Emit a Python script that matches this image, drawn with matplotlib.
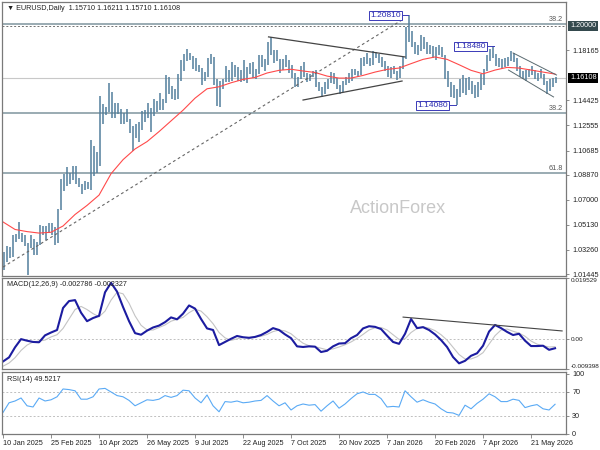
import matplotlib.pyplot as plt
import matplotlib.transforms as mtransforms
import numpy as np

plt.rcParams['font.family'] = ['Liberation Sans', 'DejaVu Sans']

# ---- price bars (each bar = 2 trading days), low / high ----
bar_low = [
    1.0178, 1.0235, 1.0265, 1.0270, 1.0385, 1.0410, 1.0385, 1.0355, 1.0141, 1.0340,
    1.0285, 1.0285, 1.0360, 1.0435, 1.0400, 1.0455, 1.0440, 1.0360, 1.0380, 1.0620,
    1.0765, 1.0800, 1.0815, 1.0845, 1.0820, 1.0795, 1.0745, 1.0770, 1.0780, 1.0775,
    1.0880, 1.0900, 1.0950, 1.1265, 1.1335, 1.1360, 1.1310, 1.1315, 1.1340, 1.1265,
    1.1270, 1.1285, 1.1200, 1.1065, 1.1165, 1.1130, 1.1225, 1.1280, 1.1315, 1.1210,
    1.1330, 1.1355, 1.1375, 1.1375, 1.1425, 1.1490, 1.1455, 1.1445, 1.1450, 1.1590,
    1.1660, 1.1735, 1.1745, 1.1680, 1.1660, 1.1655, 1.1555, 1.1585, 1.1620, 1.1715,
    1.1555, 1.1400, 1.1391, 1.1530, 1.1580, 1.1580, 1.1590, 1.1620, 1.1590, 1.1580,
    1.1585, 1.1575, 1.1640, 1.1610, 1.1605, 1.1640, 1.1690, 1.1660, 1.1710, 1.1780,
    1.1725, 1.1735, 1.1646, 1.1670, 1.1695, 1.1650, 1.1610, 1.1540, 1.1540, 1.1600,
    1.1620, 1.1580, 1.1590, 1.1620, 1.1540, 1.1510, 1.1468, 1.1490, 1.1530, 1.1570,
    1.1565, 1.1530, 1.1491, 1.1505, 1.1560, 1.1570, 1.1590, 1.1630, 1.1615, 1.1630,
    1.1700, 1.1715, 1.1700, 1.1710, 1.1760, 1.1720, 1.1690, 1.1665, 1.1620, 1.1610,
    1.1640, 1.1596, 1.1610, 1.1680, 1.1750, 1.1880, 1.1840, 1.1790, 1.1785, 1.1810,
    1.1830, 1.1790, 1.1790, 1.1760, 1.1745, 1.1780, 1.1770, 1.1600, 1.1540, 1.1470,
    1.1460, 1.1408, 1.1470, 1.1500, 1.1480, 1.1520, 1.1490, 1.1460, 1.1470, 1.1520,
    1.1560, 1.1660, 1.1740, 1.1760, 1.1700, 1.1690, 1.1680, 1.1690, 1.1700, 1.1740,
    1.1730, 1.1660, 1.1620, 1.1600, 1.1590, 1.1620, 1.1630, 1.1600, 1.1590, 1.1610,
    1.1560, 1.1490, 1.1510, 1.1540, 1.1571,
]
bar_high = [
    1.0310, 1.0355, 1.0350, 1.0435, 1.0445, 1.0533, 1.0455, 1.0440, 1.0380, 1.0440,
    1.0410, 1.0385, 1.0515, 1.0505, 1.0505, 1.0530, 1.0530, 1.0500, 1.0630, 1.0855,
    1.0890, 1.0945, 1.0900, 1.0955, 1.0950, 1.0860, 1.0820, 1.0840, 1.0830, 1.1145,
    1.1100, 1.1060, 1.1475, 1.1415, 1.1395, 1.1573, 1.1505, 1.1420, 1.1425, 1.1380,
    1.1350, 1.1380, 1.1305, 1.1250, 1.1265, 1.1285, 1.1365, 1.1375, 1.1420, 1.1385,
    1.1455, 1.1435, 1.1495, 1.1450, 1.1630, 1.1615, 1.1550, 1.1525, 1.1640, 1.1745,
    1.1790, 1.1830, 1.1800, 1.1775, 1.1760, 1.1705, 1.1685, 1.1655, 1.1760, 1.1790,
    1.1770, 1.1600, 1.1590, 1.1600, 1.1700, 1.1670, 1.1730, 1.1710, 1.1690, 1.1670,
    1.1742, 1.1690, 1.1720, 1.1730, 1.1680, 1.1780, 1.1780, 1.1755, 1.1880, 1.1918,
    1.1820, 1.1820, 1.1750, 1.1755, 1.1780, 1.1745, 1.1710, 1.1650, 1.1620, 1.1700,
    1.1728, 1.1650, 1.1640, 1.1665, 1.1670, 1.1580, 1.1540, 1.1580, 1.1600, 1.1655,
    1.1650, 1.1610, 1.1560, 1.1590, 1.1620, 1.1650, 1.1680, 1.1680, 1.1665, 1.1760,
    1.1770, 1.1800, 1.1760, 1.1810, 1.1808, 1.1790, 1.1770, 1.1740, 1.1700, 1.1690,
    1.1700, 1.1660, 1.1700, 1.1770, 1.1990, 1.2081, 1.1960, 1.1880, 1.1860, 1.1930,
    1.1920, 1.1880, 1.1860, 1.1850, 1.1840, 1.1860, 1.1845, 1.1780, 1.1660, 1.1580,
    1.1560, 1.1530, 1.1600, 1.1630, 1.1610, 1.1620, 1.1590, 1.1560, 1.1580, 1.1640,
    1.1680, 1.1780, 1.1830, 1.1848, 1.1790, 1.1760, 1.1750, 1.1760, 1.1770, 1.1810,
    1.1800, 1.1760, 1.1700, 1.1660, 1.1670, 1.1680, 1.1700, 1.1670, 1.1650, 1.1680,
    1.1640, 1.1590, 1.1600, 1.1610, 1.1621,
]

# moving average, one value every 8 trading days
ma_vals = [
    1.0534, 1.0478, 1.0462, 1.0451, 1.0457, 1.0504, 1.0590, 1.0658, 1.0735, 1.0895,
    1.1000, 1.1080, 1.1135, 1.1210, 1.1290, 1.1370, 1.1460, 1.1530, 1.1545, 1.1575,
    1.1600, 1.1615, 1.1648, 1.1668, 1.1676, 1.1663, 1.1652, 1.1625, 1.1610, 1.1610,
    1.1630, 1.1655, 1.1675, 1.1685, 1.1718, 1.1750, 1.1768, 1.1750, 1.1710, 1.1668,
    1.1642, 1.1670, 1.1690, 1.1685, 1.1670, 1.1655, 1.1640,
]

# MACD / signal / RSI, one value every 4 trading days
macd_vals = [
    -0.0070, -0.0057, -0.0025, 0.0001, -0.0004, -0.0008, -0.0009, 0.0013, 0.0022, 0.0030,
    0.0100, 0.0122, 0.0125, 0.0085, 0.0058, 0.0068, 0.0075, 0.0150, 0.0180, 0.0152,
    0.0103, 0.0058, 0.0020, 0.0015, 0.0028, 0.0038, 0.0044, 0.0055, 0.0070, 0.0064,
    0.0082, 0.0108, 0.0098, 0.0065, 0.0035, 0.0030, -0.0018, -0.0008, 0.0002, 0.0011,
    0.0007, 0.0005, 0.0008, 0.0014, 0.0024, 0.0036, 0.0030, 0.0016, 0.0004, -0.0022,
    -0.0024, -0.0022, -0.0023, -0.0040, -0.0036, -0.0022, -0.0013, -0.0012, 0.0004, 0.0014,
    0.0035, 0.0042, 0.0040, 0.0033, 0.0012, -0.0008, -0.0014, 0.0018, 0.0065, 0.0036,
    0.0039, 0.0030, 0.0016, -0.0002, -0.0024, -0.0056, -0.0076, -0.0068, -0.0052, -0.0044,
    -0.0020, 0.0025, 0.0046, 0.0036, 0.0024, 0.0014, 0.0018, -0.0004, -0.0021, -0.0021,
    -0.0020, -0.0033, -0.0028,
]
signal_vals = [
    -0.0085, -0.0075, -0.0058, -0.0035, -0.0018, -0.0008, -0.0005, -0.0002, 0.0008, 0.0015,
    0.0035, 0.0065, 0.0095, 0.0105, 0.0095, 0.0082, 0.0072, 0.0090, 0.0125, 0.0150,
    0.0145, 0.0115, 0.0075, 0.0045, 0.0030, 0.0030, 0.0038, 0.0046, 0.0058, 0.0064,
    0.0070, 0.0085, 0.0096, 0.0090, 0.0072, 0.0050, 0.0022, 0.0005, -0.0003, 0.0002,
    0.0006, 0.0007, 0.0008, 0.0010, 0.0016, 0.0025, 0.0030, 0.0027, 0.0018, 0.0002,
    -0.0012, -0.0020, -0.0023, -0.0028, -0.0033, -0.0030, -0.0024, -0.0017, -0.0008, 0.0003,
    0.0016, 0.0030, 0.0037, 0.0038, 0.0030, 0.0015, 0.0000, 0.0002, 0.0022, 0.0035,
    0.0040, 0.0036, 0.0028, 0.0015, -0.0002, -0.0025, -0.0048, -0.0062, -0.0062, -0.0055,
    -0.0042, -0.0015, 0.0012, 0.0030, 0.0033, 0.0026, 0.0020, 0.0010, -0.0005, -0.0015,
    -0.0020, -0.0024, -0.0023,
]
rsi_vals = [
    36, 52, 55, 60, 47, 45, 60, 55, 57, 62,
    75, 74, 72, 58, 58, 62, 75, 76, 70, 64,
    62, 56, 47, 52, 57, 56, 58, 64, 61, 64,
    73, 72, 60, 52, 65, 47, 37, 54, 53, 55,
    52, 53, 55, 56, 64, 55, 47, 52, 40, 47,
    50, 48, 49, 38, 47, 55, 43, 50, 59, 67,
    70, 66, 66, 59, 45, 46, 45, 72, 62, 53,
    57, 53, 50, 42, 36, 35, 31, 48, 42, 51,
    58, 67, 62, 54, 54, 58, 56, 44, 47, 49,
    42, 40, 49.52,
]

date_labels = ['10 Jan 2025', '25 Feb 2025', '10 Apr 2025', '26 May 2025', '9 Jul 2025',
               '22 Aug 2025', '7 Oct 2025', '20 Nov 2025', '7 Jan 2026', '20 Feb 2026',
               '7 Apr 2026', '21 May 2026']
price_ticks = [1.18165, 1.14425, 1.12555, 1.10685, 1.08870, 1.07000, 1.05130, 1.03260, 1.01445]
fib_levels = [1.2015, 1.1351, 1.0902]
fib_names = ['38.2', '38.2', '61.8']
last_price = 1.16108
round_level = 1.20000
marks = [(1.2081, '1.20810'), (1.1848, '1.18480'), (1.1408, '1.14080')]

bar_days = np.arange(len(bar_low)) * 2 + 0.5
ma_days = np.arange(len(ma_vals)) * 8
ind_days = np.arange(len(macd_vals)) * 4
tick_days = np.arange(len(date_labels)) * 32

XL = (-0.7, 375.3)
FRAME = '#7a7a7a'
TXT = '#222222'
FS = 5.2

fig = plt.figure(figsize=(6, 4.5), dpi=100)
ax = fig.add_axes([2/600, 1-276/450, 564/600, 274/450])
ax2 = fig.add_axes([2/600, 1-369/450, 564/600, 91/450])
ax3 = fig.add_axes([2/600, 1-434/450, 564/600, 62/450])

for a in (ax, ax2, ax3):
    a.set_xlim(*XL)
    for s in a.spines.values():
        s.set_color(FRAME)
        s.set_linewidth(0.9)
    a.yaxis.tick_right()
    a.tick_params(axis='y', direction='out', length=2.5, width=0.6, colors=FRAME,
                  labelcolor=TXT, labelsize=FS, pad=2)
    a.set_xticks([])

# ===== main price panel =====
ax.set_ylim(1.0130, 1.2179)
ax.axhline(last_price, color='#c8c8c8', lw=0.8)
for lvl, name in zip(fib_levels, fib_names):
    ax.axhline(lvl, color='#7f959e', lw=1.1)
    ax.text(373.5, lvl + 0.0008, name, ha='right', va='bottom', fontsize=FS, color='#555555')
ax.axhline(round_level, color='#707070', lw=0.7, ls=(0, (2, 2)))

ax.vlines(bar_days, bar_low, bar_high, color='#527f9c', lw=1.1)
ax.plot(ma_days, ma_vals, color='#ff4a4a', lw=0.8)

# trend lines
ax.plot([0, 267], [1.0197, 1.2052], color='#666666', lw=0.8, ls=(0, (2.5, 2.5)))
ax.plot([177, 268], [1.1918, 1.1768], color='#444444', lw=0.9)
ax.plot([200, 266], [1.1446, 1.1588], color='#444444', lw=0.9)
ax.plot([340, 369], [1.1798, 1.1633], color='#5a6a70', lw=0.7)
ax.plot([337, 367], [1.1670, 1.1469], color='#5a6a70', lw=0.7)

# swing labels
for (val, txt), (xr, xb) in zip(marks, [(266, 270), (322.7, 327), (297.3, 302)]):
    ax.plot([xr, xb], [val, val], color='#3a3ab8', lw=0.7)
    ax.text(xr - 0.8, val, txt, ha='right', va='center', fontsize=FS + 0.8, color='#2a2ab0',
            bbox=dict(boxstyle='square,pad=0.12', fc='white', ec='#3a3ab8', lw=0.7))

ax.text(263, 1.0638, 'ActionForex', ha='center', va='center', fontsize=13, color='#c8c8c8')
ax.text(0.008, 0.988, '\u25bc EURUSD,Daily  1.15710 1.16211 1.15710 1.16108', transform=ax.transAxes,
        ha='left', va='top', fontsize=FS, color=TXT, family=['Liberation Sans', 'DejaVu Sans'])

ax.set_yticks(price_ticks)
ax.set_yticklabels([f'{v:.5f}' for v in price_ticks])
trans = mtransforms.blended_transform_factory(ax.transAxes, ax.transData)
ax.text(1.007, round_level, '1.20000', transform=trans, ha='left', va='center', fontsize=FS,
        color='white', bbox=dict(boxstyle='square,pad=0.25', fc='#34494d', ec='none'))
ax.text(1.007, last_price, '1.16108', transform=trans, ha='left', va='center', fontsize=FS,
        color='white', bbox=dict(boxstyle='square,pad=0.25', fc='black', ec='none'))

# ===== MACD panel =====
ax2.set_ylim(-0.009398, 0.019529)
ax2.axhline(0, color='#c0c0c0', lw=0.7, ls=(0, (2, 2)))
ax2.plot(ind_days, signal_vals, color='#c4c4c4', lw=0.8)
ax2.plot(ind_days, macd_vals, color='#1c1ca0', lw=1.5)
ax2.plot([266.7, 372.7], [0.0071, 0.0027], color='#444444', lw=0.8)
ax2.set_yticks([-0.009398, 0.0, 0.019529])
ax2.set_yticklabels(['-0.009398', '0.00', '0.019529'])
ax2.tick_params(axis='y', labelsize=4.6, pad=1)
for lbl, va in zip(ax2.get_yticklabels(), ['bottom', 'center', 'top']):
    lbl.set_va(va)
ax2.text(0.008, 0.97, 'MACD(12,26,9) -0.002786 -0.002327', transform=ax2.transAxes,
         ha='left', va='top', fontsize=FS, color=TXT)

# ===== RSI panel =====
ax3.set_ylim(0, 103.3)
for lvl in (70, 30):
    ax3.axhline(lvl, color='#c0c0c0', lw=0.7, ls=(0, (2, 2)))
ax3.plot(ind_days, rsi_vals, color='#5aaaf5', lw=0.8)
ax3.set_yticks([0, 30, 70, 100])
ax3.set_yticklabels(['0', '30', '70', '100'])
ax3.text(0.008, 0.94, 'RSI(14) 49.5217', transform=ax3.transAxes,
         ha='left', va='top', fontsize=FS, color=TXT)
ax3.set_xticks(tick_days)
ax3.set_xticklabels(date_labels, ha='left')
ax3.tick_params(axis='x', direction='out', length=3, width=0.6, colors=FRAME,
                labelcolor=TXT, labelsize=FS, pad=1.5)

fig.savefig('out.png', dpi=100)
